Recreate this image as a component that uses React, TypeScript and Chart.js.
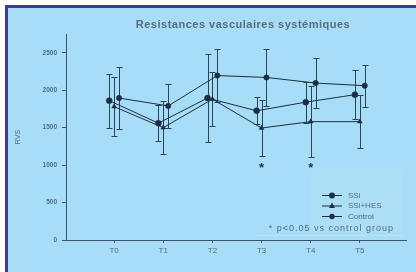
import React, { useEffect, useRef } from 'react';
import Chart from 'chart.js/auto';

const categories = ['T0', 'T1', 'T2', 'T3', 'T4', 'T5'];
const seriesNames = ['SSi', 'SSi+HES', 'Control'];
const ssiValues = [1860, 1560, 1895, 1725, 1840, 1940];
const ssiSD = [360, 240, 590, 180, 275, 325];
const hesValues = [1780, 1500, 1880, 1495, 1580, 1580];
const hesSD = [390, 350, 360, 370, 470, 350];
const controlValues = [1895, 1790, 2195, 2170, 2095, 2060];
const controlSD = [410, 295, 355, 380, 335, 280];
const hesSignificance = [null, null, null, 1000, 1000, null];
const yTickValues = [0, 500, 1000, 1500, 2000, 2500];
const titleText = 'Resistances vasculaires systémiques';
const yTitleText = 'RVS';
const footnoteText = '* p<0.05 vs control group';

const INK = '#1d2e42';
const AXIS = '#3c566c';
const TEXT = '#4f6c84';
const BG = '#a7ddf6';
const FONT = '"Liberation Sans", Arial, sans-serif';

export default function App() {
  const ref = useRef<HTMLCanvasElement | null>(null);

  useEffect(() => {
    const canvas = ref.current;
    if (!canvas) return;
    const valueSets = [ssiValues, hesValues, controlValues];
    const sdSets = [ssiSD, hesSD, controlSD];
    const offsets = [-0.1, 0, 0.1];
    const pointStyles = ['circle', 'triangle', 'circle'];
    const radii = [3, 2.8, 2.7];

    const datasets: any[] = valueSets.map((vals, s) => ({
      label: seriesNames[s],
      data: vals.map((v, i) => ({ x: i + offsets[s], y: v })),
      borderColor: INK,
      backgroundColor: INK,
      borderWidth: 1,
      pointStyle: pointStyles[s],
      pointRadius: radii[s],
      pointBorderWidth: 0.5,
      showLine: true,
      fill: false,
      tension: 0,
    }));

    const errorBars = {
      id: 'errorBars',
      beforeDatasetsDraw(chart: any) {
        const ctx = chart.ctx;
        const xs = chart.scales.x;
        const ys = chart.scales.y;
        ctx.save();
        ctx.strokeStyle = '#2c4258';
        ctx.lineWidth = 1;
        valueSets.forEach((vals, s) => {
          vals.forEach((v, i) => {
            const px = Math.round(xs.getPixelForValue(i + offsets[s])) + 0.5;
            const top = Math.round(ys.getPixelForValue(v + sdSets[s][i])) + 0.5;
            const bot = Math.round(ys.getPixelForValue(v - sdSets[s][i])) + 0.5;
            ctx.beginPath();
            ctx.moveTo(px, top);
            ctx.lineTo(px, bot);
            ctx.moveTo(px - 3, top);
            ctx.lineTo(px + 3, top);
            ctx.moveTo(px - 3, bot);
            ctx.lineTo(px + 3, bot);
            ctx.stroke();
          });
        });
        ctx.restore();
      },
    };

    const annotations = {
      id: 'annotations',
      afterDraw(chart: any) {
        const ctx = chart.ctx;
        const xs = chart.scales.x;
        const ys = chart.scales.y;
        const area = chart.chartArea;
        ctx.save();
        // title
        ctx.fillStyle = '#566d80';
        ctx.font = `bold 11px ${FONT}`;
        ctx.textAlign = 'center';
        ctx.textBaseline = 'middle';
        (ctx as any).letterSpacing = '0.5px';
        ctx.fillText(titleText, 243, 25);
        (ctx as any).letterSpacing = '0px';
        // significance marks
        ctx.fillStyle = INK;
        ctx.font = `bold 13px ${FONT}`;
        hesSignificance.forEach((v, i) => {
          if (v == null) return;
          const px = xs.getPixelForValue(i + offsets[1]);
          const py = ys.getPixelForValue(v);
          ctx.fillText('*', px, py + 3);
        });
        // y title
        ctx.save();
        ctx.translate(18, (area.top + area.bottom) / 2);
        ctx.rotate(-Math.PI / 2);
        ctx.fillStyle = TEXT;
        ctx.font = `7px ${FONT}`;
        ctx.fillText(yTitleText, 0, 0);
        ctx.restore();
        // legend box
        ctx.fillStyle = 'rgba(255,255,255,0.06)';
        ctx.fillRect(area.right - 95, area.bottom - 70, 92, 62);
        const lx = area.right - 84;
        const rows = [195, 205.5, 216];
        ctx.strokeStyle = INK;
        ctx.lineWidth = 1;
        seriesNames.forEach((name, s) => {
          const y = rows[s];
          ctx.beginPath();
          ctx.moveTo(lx, y + 0.5);
          ctx.lineTo(lx + 20, y + 0.5);
          ctx.stroke();
          ctx.fillStyle = INK;
          const cx = lx + 10;
          if (pointStyles[s] === 'triangle') {
            ctx.beginPath();
            ctx.moveTo(cx, y - 3);
            ctx.lineTo(cx + 3, y + 2.5);
            ctx.lineTo(cx - 3, y + 2.5);
            ctx.closePath();
            ctx.fill();
          } else {
            ctx.beginPath();
            ctx.arc(cx, y + 0.5, radii[s], 0, Math.PI * 2);
            ctx.fill();
          }
          ctx.fillStyle = TEXT;
          ctx.font = `8px ${FONT}`;
          ctx.textAlign = 'left';
          ctx.fillText(name, lx + 26, y + 0.5);
        });
        ctx.fillStyle = TEXT;
        ctx.font = `9px ${FONT}`;
        ctx.textAlign = 'right';
        (ctx as any).letterSpacing = '1px';
        ctx.fillText(footnoteText, area.right - 12, 229);
        (ctx as any).letterSpacing = '0px';
        ctx.strokeStyle = 'rgba(255,255,255,0.2)';
        ctx.beginPath();
        ctx.moveTo(area.right - 150, 235.5);
        ctx.lineTo(area.right - 3, 235.5);
        ctx.stroke();
        ctx.restore();
      },
    };

    const chart = new Chart(canvas, {
      type: 'scatter',
      data: { datasets },
      plugins: [errorBars, annotations],
      options: {
        animation: false,
        responsive: false,
        maintainAspectRatio: false,
        layout: { padding: { left: 0, right: 10, top: 34, bottom: 0 } },
        plugins: {
          legend: { display: false },
          tooltip: { enabled: false },
          title: { display: false },
        },
        scales: {
          x: {
            type: 'linear',
            min: -0.98,
            max: 5.94,
            afterBuildTicks: (scale: any) => {
              scale.ticks = categories.map((_, i) => ({ value: i }));
            },
            afterFit: (scale: any) => {
              scale.height = 32;
            },
            ticks: {
              callback: (v: any) => categories[v] ?? '',
              color: TEXT,
              font: { family: FONT, size: 8 },
              padding: 3,
              maxRotation: 0,
              autoSkip: false,
            },
            grid: { display: true, drawOnChartArea: false, tickLength: 3, color: AXIS },
            border: { display: true, color: AXIS, width: 1 },
          },
          y: {
            type: 'linear',
            min: 0,
            max: 2750,
            afterBuildTicks: (scale: any) => {
              scale.ticks = yTickValues.map((v) => ({ value: v }));
            },
            afterFit: (scale: any) => {
              scale.width = 66;
            },
            ticks: {
              callback: (v: any) => String(v),
              color: TEXT,
              font: { family: FONT, size: 6.5, weight: 'bold' },
              padding: 5,
            },
            grid: { display: true, drawOnChartArea: false, tickLength: 4, color: AXIS },
            border: { display: true, color: AXIS, width: 1 },
          },
        },
      },
    } as any);
    return () => chart.destroy();
  }, []);

  return (
    <div style={{ position: 'fixed', left: 0, top: 0, width: 416, height: 272, background: '#ffffff', overflow: 'hidden' }}>
      <div
        style={{
          position: 'absolute',
          left: 5,
          top: 5,
          width: 408,
          height: 265,
          background: BG,
          borderTop: '3px solid #3a3d97',
          borderLeft: '3px solid #3a3d97',
          borderBottom: '2px solid #3a3d97',
        }}
      />
      <canvas ref={ref} width={416} height={272} style={{ position: 'absolute', left: 0, top: 0, width: 416, height: 272 }} />
    </div>
  );
}
